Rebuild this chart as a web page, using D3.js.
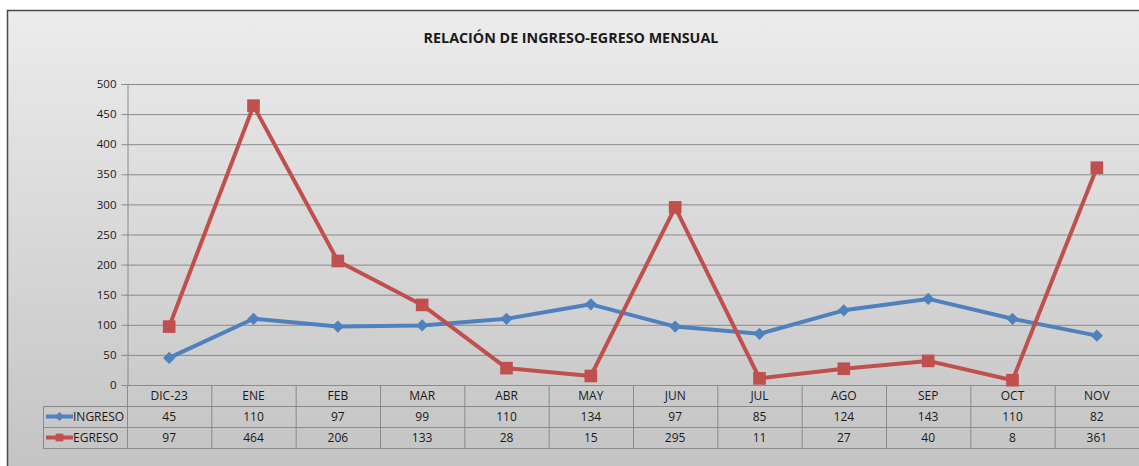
<!DOCTYPE html>
<html>
<head>
<meta charset="utf-8">
<script src="https://cdn.jsdelivr.net/npm/d3@7"></script>
<style>
  body { margin: 0; background: #fff; }
  text { font-family: "Open Sans", "Liberation Sans", sans-serif; fill: #1a1a1a; }
</style>
</head>
<body>
<div class="canva"></div>
<script>
const months = ["DIC-23","ENE","FEB","MAR","ABR","MAY","JUN","JUL","AGO","SEP","OCT","NOV"];
const ingreso = [45,110,97,99,110,134,97,85,124,143,110,82];
const egreso = [97,464,206,133,28,15,295,11,27,40,8,361];
const yTicks = [0,50,100,150,200,250,300,350,400,450,500];

// diamond = square turned 45 degrees
const series = [
  {name: "INGRESO", values: ingreso, color: "#4f81bd", rot: 45, size: 75, keySize: 40},
  {name: "EGRESO", values: egreso, color: "#c0504d", rot: 0, size: 160, keySize: 60}
];

const W = 1139, H = 466;
const svg = d3.select(".canva").append("svg")
  .attr("width", W)
  .attr("height", H);

const defs = svg.append("defs");
const grad = defs.append("linearGradient")
  .attr("id", "bg").attr("x1", 0).attr("y1", 0).attr("x2", 0).attr("y2", 1);
grad.append("stop").attr("offset", "0%").attr("stop-color", "#ececec");
grad.append("stop").attr("offset", "100%").attr("stop-color", "#c3c3c3");

// chart frame
svg.append("rect")
  .attr("x", 7.5).attr("y", 10.5)
  .attr("width", W).attr("height", H)
  .attr("fill", "url(#bg)")
  .attr("stroke", "#4a4a4a")
  .attr("stroke-width", 1.5);

svg.append("text")
  .attr("x", 571).attr("y", 43)
  .attr("text-anchor", "middle")
  .attr("font-size", 14.3)
  .attr("font-weight", "bold")
  .text("RELACIÓN DE INGRESO-EGRESO MENSUAL");

const plotL = 127, plotR = 1139, plotT = 84, plotB = 385;

const x = d3.scaleBand()
  .domain(months)
  .range([plotL, plotR]);

const y = d3.scaleLinear()
  .domain([0, 500])
  .range([plotB, plotT]);

// gridlines
svg.append("g").selectAll("line")
  .data(yTicks.slice(1))
  .enter().append("line")
  .attr("x1", plotL).attr("x2", plotR)
  .attr("y1", d => y(d) + 0.5).attr("y2", d => y(d) + 0.5)
  .attr("stroke", "#8a8a8a").attr("stroke-width", 1);

// y axis
const yAxis = svg.append("g")
  .attr("transform", `translate(${plotL + 0.5},0)`)
  .call(d3.axisLeft(y).tickValues(yTicks).tickSize(6).tickPadding(5));
yAxis.selectAll("path, line").attr("stroke", "#8a8a8a");
yAxis.selectAll("text").attr("font-size", 11.5).attr("fill", "#1a1a1a")
  .style("font-family", "'Open Sans', sans-serif");

// data table
const rowH = 21;
const tableTop = plotB;
const tableLeft = 43;
const tbl = svg.append("g");
const lineColor = "#8a8a8a";

tbl.append("line")
  .attr("x1", plotL).attr("x2", plotR)
  .attr("y1", tableTop + 0.5).attr("y2", tableTop + 0.5)
  .attr("stroke", lineColor);
[1, 2, 3].forEach(i => {
  tbl.append("line")
    .attr("x1", tableLeft).attr("x2", plotR)
    .attr("y1", tableTop + i * rowH + 0.5).attr("y2", tableTop + i * rowH + 0.5)
    .attr("stroke", lineColor);
});
tbl.append("line")
  .attr("x1", tableLeft + 0.5).attr("x2", tableLeft + 0.5)
  .attr("y1", tableTop + rowH).attr("y2", tableTop + 3 * rowH)
  .attr("stroke", lineColor);
tbl.selectAll(".vl")
  .data(months)
  .enter().append("line")
  .attr("x1", d => x(d) + 0.5).attr("x2", d => x(d) + 0.5)
  .attr("y1", tableTop).attr("y2", tableTop + 3 * rowH)
  .attr("stroke", lineColor);

tbl.selectAll(".hd")
  .data(months)
  .enter().append("text")
  .attr("x", d => x(d) + x.bandwidth() / 2)
  .attr("y", tableTop + rowH / 2 + 4.5)
  .attr("text-anchor", "middle")
  .attr("font-size", 12)
  .text(d => d);

series.forEach((s, si) => {
  const ry = tableTop + (si + 1) * rowH;
  tbl.selectAll(".v" + si)
    .data(s.values)
    .enter().append("text")
    .attr("x", (d, i) => x(months[i]) + x.bandwidth() / 2)
    .attr("y", ry + rowH / 2 + 4.5)
    .attr("text-anchor", "middle")
    .attr("font-size", 12)
    .text(d => d);

  // legend key
  const ly = ry + rowH / 2;
  tbl.append("line")
    .attr("x1", 46).attr("x2", 73)
    .attr("y1", ly).attr("y2", ly)
    .attr("stroke", s.color).attr("stroke-width", 4);
  tbl.append("path")
    .attr("d", d3.symbol().type(d3.symbolSquare).size(s.keySize)())
    .attr("transform", `translate(59.5,${ly}) rotate(${s.rot})`)
    .attr("fill", s.color);
  tbl.append("text")
    .attr("x", 73).attr("y", ly + 4.5)
    .attr("font-size", 12)
    .text(s.name);
});

// lines
const line = d3.line()
  .x((d, i) => x(months[i]) + x.bandwidth() / 2)
  .y(d => y(d));

series.forEach(s => {
  svg.append("path")
    .datum(s.values)
    .attr("d", line)
    .attr("fill", "none")
    .attr("stroke", s.color)
    .attr("stroke-width", 4)
    .attr("stroke-linejoin", "round");

  svg.append("g").selectAll("path")
    .data(s.values)
    .enter().append("path")
    .attr("d", d3.symbol().type(d3.symbolSquare).size(s.size)())
    .attr("transform", (d, i) => `translate(${x(months[i]) + x.bandwidth() / 2},${y(d)}) rotate(${s.rot})`)
    .attr("fill", s.color);
});
</script>
</body>
</html>
